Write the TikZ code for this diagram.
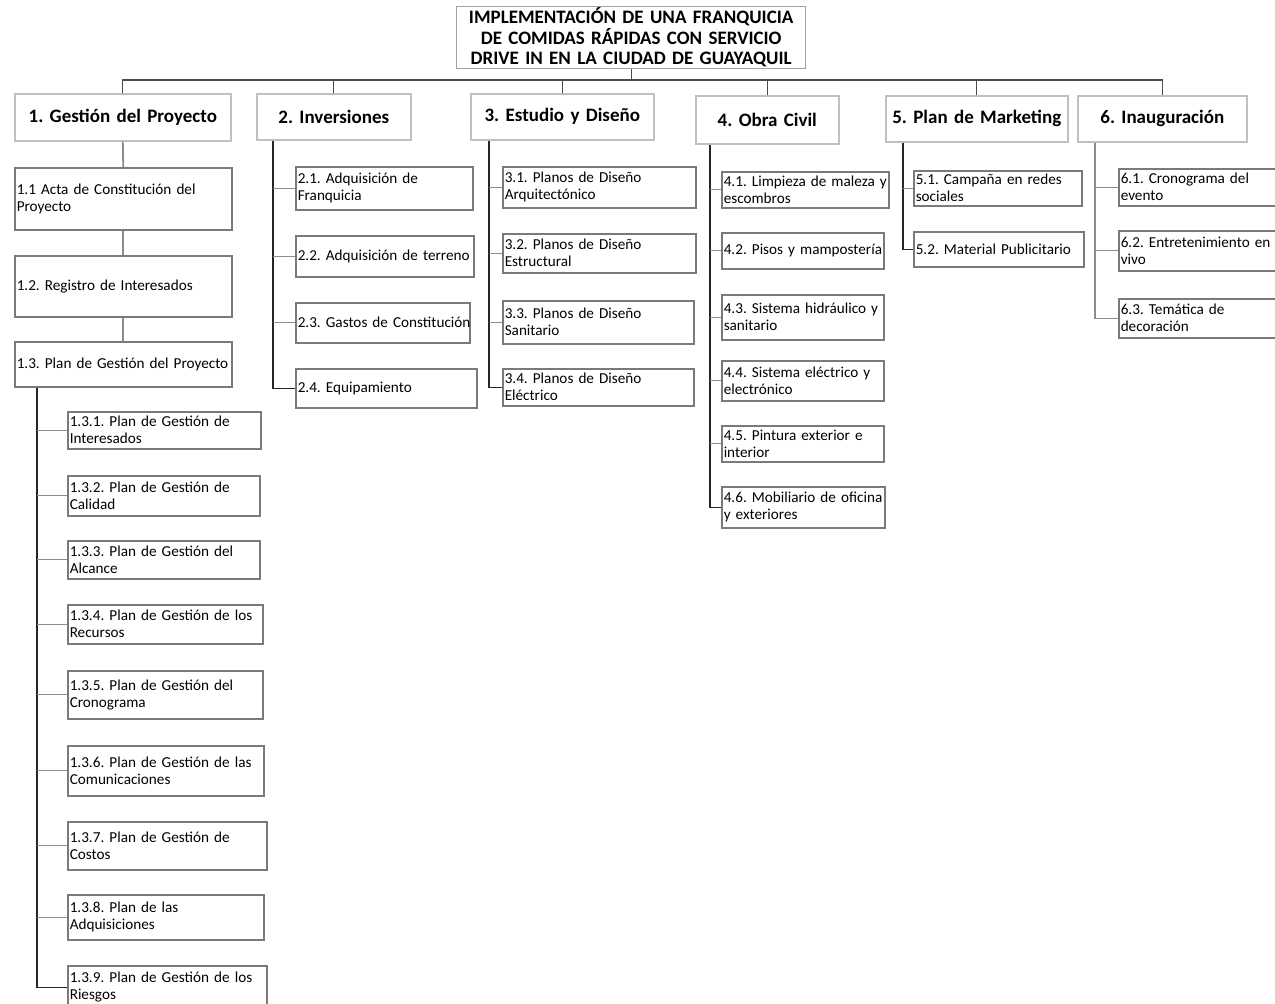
\documentclass[tikz,border=0pt]{standalone}
\usepackage{fontspec}
\setmainfont{Carlito}[WordSpace=0.8]
\usetikzlibrary{calc}
\definecolor{hdrgray}{HTML}{BFBFBF}
\definecolor{subgray}{HTML}{7A7A7A}
\definecolor{lngray}{HTML}{8C8C8C}
\definecolor{stemc}{HTML}{262626}
\newcommand\bx[7]{%
  \pgfmathsetmacro\bxw{#4-#2}\pgfmathsetmacro\bxh{#5-#3}\pgfmathsetmacro\bxt{#4-#2-4}%
  \node[#6, anchor=north west, minimum width=\bxw pt, minimum height=\bxh pt, text width=\bxt pt] (#1) at (#2,#3) {#7};}
\begin{document}
\frenchspacing
\begin{tikzpicture}[x=1pt,y=-1pt,
  ttl/.style={draw=hdrgray!85!black, line width=1.4pt, font=\frenchspacing\bfseries\fontsize{19}{20.5}\selectfont, align=center, inner xsep=2pt, inner ysep=0pt},
  hdr/.style={draw=hdrgray, line width=1.6pt, font=\frenchspacing\bfseries\fontsize{19}{21}\selectfont, align=center, inner xsep=2pt, inner ysep=0pt},
  sub/.style={draw=subgray, line width=1.5pt, font=\frenchspacing\fontsize{15.2}{17}\selectfont, align=left, inner xsep=1.5pt, inner ysep=0pt},
  bar/.style={draw=black!70, line width=1.1pt},
  gline/.style={draw=lngray, line width=1.8pt},
  stem/.style={draw=stemc, line width=1.2pt},
  tick/.style={draw=lngray, line width=1.2pt}]
\useasboundingbox (0,0) rectangle (1275,1004);
% title
\bx{title}{456}{6}{805}{68}{ttl}{IMPLEMENTACIÓN DE UNA FRANQUICIA\\DE COMIDAS RÁPIDAS CON SERVICIO\\DRIVE IN EN LA CIUDAD DE GUAYAQUIL}
% level 1
\bx{h1}{14}{93}{230}{140}{hdr}{1. Gestión del Proyecto}
\bx{h2}{256}{93}{410}{139}{hdr}{2. Inversiones}
\bx{h3}{470}{93}{653}{139}{hdr}{3. Estudio y Diseño}
\bx{h4}{695}{95}{838}{143}{hdr}{4. Obra Civil}
\bx{h5}{885}{95}{1067}{141}{hdr}{5. Plan de Marketing}
\bx{h6}{1077}{95}{1246}{141}{hdr}{6. Inauguración}
\coordinate (barY) at (0,80);
\draw[bar] (title.south) -- (title.south |- barY);
\draw[bar] (h1.north) -- (h1.north |- barY) -- (h6.north |- barY) -- (h6.north);
\foreach \h in {h2,h3,h4,h5} \draw[bar] (\h.north) -- (\h.north |- barY);
% column 1
\bx{c11}{14}{167}{231}{229}{sub}{\mbox{1.1 Acta de Constitución del}\\Proyecto}
\bx{c12}{14}{255}{231}{316}{sub}{\mbox{1.2. Registro de Interesados}}
\bx{c13}{14}{341}{231}{386}{sub}{\mbox{1.3. Plan de Gestión del Proyecto}}
\draw[gline] (h1.south) -- (c11.north);
\draw[gline] (c11.south) -- (c12.north);
\draw[gline] (c12.south) -- (c13.north);
\bx{c131}{67}{411}{260}{448}{sub}{\mbox{1.3.1. Plan de Gestión de}\\Interesados}
\bx{c132}{67}{475}{259}{515}{sub}{\mbox{1.3.2. Plan de Gestión de}\\Calidad}
\bx{c133}{67}{540}{259}{578}{sub}{\mbox{1.3.3. Plan de Gestión del}\\Alcance}
\bx{c134}{67}{604}{262}{643}{sub}{\mbox{1.3.4. Plan de Gestión de los}\\Recursos}
\bx{c135}{67}{670}{262}{718}{sub}{\mbox{1.3.5. Plan de Gestión del}\\Cronograma}
\bx{c136}{67}{745}{263}{795}{sub}{\mbox{1.3.6. Plan de Gestión de las}\\Comunicaciones}
\bx{c137}{67}{821}{266}{869}{sub}{\mbox{1.3.7. Plan de Gestión de}\\Costos}
\bx{c138}{67}{894}{263}{939}{sub}{\mbox{1.3.8. Plan de las}\\Adquisiciones}
\bx{c139}{67}{965}{266}{1008}{sub}{\mbox{1.3.9. Plan de Gestión de los}\\Riesgos}
\coordinate (s1) at ($(c13.south west)+(23,0)$);
\draw[stem] (s1) |- (c139.west);
\foreach \c in {c131,c132,c133,c134,c135,c136,c137,c138} \draw[tick] (\c.west) -- (\c.west -| s1);
% column 2
\bx{c21}{295}{166}{472}{209}{sub}{\mbox{2.1. Adquisición de}\\Franquicia}
\bx{c22}{295}{235}{473}{276}{sub}{\mbox{2.2. Adquisición de terreno}}
\bx{c23}{295}{302}{469}{342}{sub}{\mbox{2.3. Gastos de Constitución}}
\bx{c24}{295}{368}{476}{407}{sub}{\mbox{2.4. Equipamiento}}
\coordinate (s2) at ($(h2.south west)+(17,0)$);
\draw[stem] (s2) |- (c24.west);
\foreach \c in {c21,c22,c23} \draw[tick] (\c.west) -- (\c.west -| s2);
% column 3
\bx{c31}{502}{166}{695}{207}{sub}{\mbox{3.1. Planos de Diseño}\\Arquitectónico}
\bx{c32}{502}{233}{695}{272}{sub}{\mbox{3.2. Planos de Diseño}\\Estructural}
\bx{c33}{502}{300}{693}{343}{sub}{\mbox{3.3. Planos de Diseño}\\Sanitario}
\bx{c34}{502}{368}{693}{405}{sub}{\mbox{3.4. Planos de Diseño}\\Eléctrico}
\coordinate (s3) at ($(h3.south west)+(19,0)$);
\draw[stem] (s3) |- (c34.west);
\foreach \c in {c31,c32,c33} \draw[tick] (\c.west) -- (\c.west -| s3);
% column 4
\bx{c41}{721}{171}{888}{207}{sub}{\mbox{4.1. Limpieza de maleza y}\\escombros}
\bx{c42}{721}{232}{883}{268}{sub}{\mbox{4.2. Pisos y mampostería}}
\bx{c43}{721}{294}{883}{339}{sub}{\mbox{4.3. Sistema hidráulico y}\\sanitario}
\bx{c44}{721}{360}{883}{400}{sub}{\mbox{4.4. Sistema eléctrico y}\\electrónico}
\bx{c45}{721}{425}{883}{461}{sub}{\mbox{4.5. Pintura exterior e}\\interior}
\bx{c46}{721}{486}{884}{527}{sub}{\mbox{4.6. Mobiliario de oficina}\\y exteriores}
\coordinate (s4) at ($(h4.south west)+(15,0)$);
\draw[stem] (s4) |- (c46.west);
\foreach \c in {c41,c42,c43,c44,c45} \draw[tick] (\c.west) -- (\c.west -| s4);
% column 5
\bx{c51}{913}{170}{1081}{205}{sub}{\mbox{5.1. Campaña en redes}\\sociales}
\bx{c52}{913}{231}{1083}{266}{sub}{\mbox{5.2. Material Publicitario}}
\coordinate (s5) at ($(h5.south west)+(18,0)$);
\draw[stem] (s5) |- (c52.west);
\draw[tick] (c51.west) -- (c51.west -| s5);
% column 6
\bx{c61}{1118}{168}{1282}{205}{sub}{\mbox{6.1. Cronograma del}\\evento}
\bx{c62}{1118}{230}{1282}{270}{sub}{\mbox{6.2. Entretenimiento en}\\vivo}
\bx{c63}{1118}{298}{1282}{337}{sub}{\mbox{6.3. Temática de}\\decoración}
\coordinate (s6) at ($(h6.south west)+(18,0)$);
\draw[tick] (s6) |- (c63.west);
\foreach \c in {c61,c62} \draw[tick] (\c.west) -- (\c.west -| s6);
\end{tikzpicture}
\end{document}
